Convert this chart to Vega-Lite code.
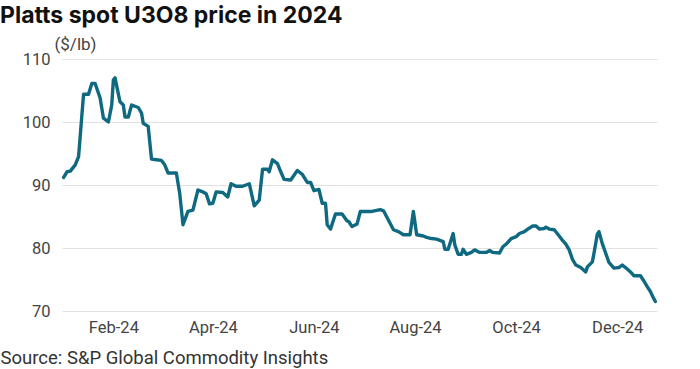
{
  "$schema": "https://vega.github.io/schema/vega-lite/v6.json",
  "autosize": "none",
  "width": 595,
  "height": 252,
  "padding": {"left": 62, "top": 59, "right": 43, "bottom": 58},
  "background": "white",
  "title": {
    "text": "Platts spot U3O8 price in 2024",
    "anchor": "start",
    "frame": "group",
    "dx": -62,
    "offset": 7,
    "font": "Inter",
    "fontSize": 23,
    "fontWeight": 700,
    "color": "#111111"
  },
  "config": {
    "view": {"stroke": null},
    "axis": {
      "labelFont": "Roboto",
      "labelFontSize": 16.5,
      "labelColor": "#444444",
      "titleFont": "Roboto",
      "titleFontWeight": "normal",
      "titleFontSize": 17,
      "titleColor": "#444444",
      "domain": false,
      "ticks": false
    }
  },
  "data": {
    "values": [
      {"date": "2024-01-02", "price": 91.2},
      {"date": "2024-01-04", "price": 92.1},
      {"date": "2024-01-06", "price": 92.2},
      {"date": "2024-01-09", "price": 93.2},
      {"date": "2024-01-11", "price": 94.5},
      {"date": "2024-01-14", "price": 104.4},
      {"date": "2024-01-17", "price": 104.4},
      {"date": "2024-01-19", "price": 106.1},
      {"date": "2024-01-21", "price": 106.1},
      {"date": "2024-01-24", "price": 103.8},
      {"date": "2024-01-26", "price": 100.6},
      {"date": "2024-01-29", "price": 100.0},
      {"date": "2024-01-31", "price": 102.7},
      {"date": "2024-02-01", "price": 106.7},
      {"date": "2024-02-02", "price": 107.0},
      {"date": "2024-02-05", "price": 103.2},
      {"date": "2024-02-07", "price": 102.7},
      {"date": "2024-02-08", "price": 100.8},
      {"date": "2024-02-10", "price": 100.8},
      {"date": "2024-02-12", "price": 102.7},
      {"date": "2024-02-16", "price": 102.3},
      {"date": "2024-02-18", "price": 101.4},
      {"date": "2024-02-19", "price": 99.8},
      {"date": "2024-02-22", "price": 99.3},
      {"date": "2024-02-24", "price": 94.1},
      {"date": "2024-02-27", "price": 94.0},
      {"date": "2024-03-01", "price": 93.9},
      {"date": "2024-03-03", "price": 93.2},
      {"date": "2024-03-05", "price": 91.9},
      {"date": "2024-03-10", "price": 91.9},
      {"date": "2024-03-12", "price": 88.7},
      {"date": "2024-03-14", "price": 83.7},
      {"date": "2024-03-17", "price": 85.8},
      {"date": "2024-03-20", "price": 86.0},
      {"date": "2024-03-23", "price": 89.2},
      {"date": "2024-03-26", "price": 88.9},
      {"date": "2024-03-28", "price": 88.6},
      {"date": "2024-03-30", "price": 87.0},
      {"date": "2024-04-01", "price": 87.1},
      {"date": "2024-04-03", "price": 88.9},
      {"date": "2024-04-07", "price": 88.8},
      {"date": "2024-04-10", "price": 88.1},
      {"date": "2024-04-12", "price": 90.2},
      {"date": "2024-04-15", "price": 89.8},
      {"date": "2024-04-19", "price": 89.8},
      {"date": "2024-04-23", "price": 90.2},
      {"date": "2024-04-26", "price": 86.7},
      {"date": "2024-04-29", "price": 87.6},
      {"date": "2024-05-01", "price": 92.5},
      {"date": "2024-05-04", "price": 92.5},
      {"date": "2024-05-05", "price": 92.1},
      {"date": "2024-05-07", "price": 94.0},
      {"date": "2024-05-10", "price": 93.4},
      {"date": "2024-05-12", "price": 92.1},
      {"date": "2024-05-14", "price": 90.9},
      {"date": "2024-05-18", "price": 90.8},
      {"date": "2024-05-22", "price": 92.3},
      {"date": "2024-05-25", "price": 91.7},
      {"date": "2024-05-28", "price": 90.4},
      {"date": "2024-05-30", "price": 90.4},
      {"date": "2024-06-01", "price": 89.1},
      {"date": "2024-06-04", "price": 89.3},
      {"date": "2024-06-06", "price": 87.1},
      {"date": "2024-06-08", "price": 87.1},
      {"date": "2024-06-09", "price": 83.7},
      {"date": "2024-06-11", "price": 83.0},
      {"date": "2024-06-14", "price": 85.4},
      {"date": "2024-06-18", "price": 85.4},
      {"date": "2024-06-21", "price": 84.3},
      {"date": "2024-06-22", "price": 84.2},
      {"date": "2024-06-24", "price": 83.4},
      {"date": "2024-06-27", "price": 83.8},
      {"date": "2024-06-29", "price": 85.8},
      {"date": "2024-07-06", "price": 85.8},
      {"date": "2024-07-11", "price": 86.1},
      {"date": "2024-07-13", "price": 85.9},
      {"date": "2024-07-16", "price": 84.4},
      {"date": "2024-07-19", "price": 82.9},
      {"date": "2024-07-22", "price": 82.6},
      {"date": "2024-07-25", "price": 82.1},
      {"date": "2024-07-29", "price": 82.1},
      {"date": "2024-07-31", "price": 85.8},
      {"date": "2024-08-02", "price": 82.1},
      {"date": "2024-08-06", "price": 81.9},
      {"date": "2024-08-08", "price": 81.7},
      {"date": "2024-08-11", "price": 81.5},
      {"date": "2024-08-14", "price": 81.4},
      {"date": "2024-08-18", "price": 81.0},
      {"date": "2024-08-19", "price": 79.8},
      {"date": "2024-08-21", "price": 79.8},
      {"date": "2024-08-24", "price": 82.3},
      {"date": "2024-08-25", "price": 80.5},
      {"date": "2024-08-27", "price": 79.0},
      {"date": "2024-08-29", "price": 79.0},
      {"date": "2024-08-30", "price": 79.8},
      {"date": "2024-09-01", "price": 79.0},
      {"date": "2024-09-04", "price": 79.3},
      {"date": "2024-09-06", "price": 79.7},
      {"date": "2024-09-09", "price": 79.3},
      {"date": "2024-09-13", "price": 79.3},
      {"date": "2024-09-15", "price": 79.6},
      {"date": "2024-09-17", "price": 79.3},
      {"date": "2024-09-21", "price": 79.2},
      {"date": "2024-09-23", "price": 80.2},
      {"date": "2024-09-25", "price": 80.6},
      {"date": "2024-09-28", "price": 81.5},
      {"date": "2024-10-01", "price": 81.8},
      {"date": "2024-10-03", "price": 82.3},
      {"date": "2024-10-06", "price": 82.6},
      {"date": "2024-10-08", "price": 83.0},
      {"date": "2024-10-11", "price": 83.5},
      {"date": "2024-10-13", "price": 83.5},
      {"date": "2024-10-15", "price": 83.0},
      {"date": "2024-10-18", "price": 83.1},
      {"date": "2024-10-19", "price": 83.3},
      {"date": "2024-10-21", "price": 83.0},
      {"date": "2024-10-24", "price": 82.9},
      {"date": "2024-10-27", "price": 81.9},
      {"date": "2024-10-29", "price": 81.2},
      {"date": "2024-10-31", "price": 80.6},
      {"date": "2024-11-02", "price": 79.7},
      {"date": "2024-11-04", "price": 78.2},
      {"date": "2024-11-06", "price": 77.3},
      {"date": "2024-11-09", "price": 76.9},
      {"date": "2024-11-12", "price": 76.2},
      {"date": "2024-11-13", "price": 77.0},
      {"date": "2024-11-16", "price": 77.8},
      {"date": "2024-11-17", "price": 79.2},
      {"date": "2024-11-19", "price": 82.2},
      {"date": "2024-11-20", "price": 82.6},
      {"date": "2024-11-22", "price": 80.7},
      {"date": "2024-11-24", "price": 79.2},
      {"date": "2024-11-26", "price": 77.7},
      {"date": "2024-11-29", "price": 76.8},
      {"date": "2024-12-02", "price": 76.9},
      {"date": "2024-12-04", "price": 77.3},
      {"date": "2024-12-06", "price": 76.9},
      {"date": "2024-12-09", "price": 76.2},
      {"date": "2024-12-11", "price": 75.6},
      {"date": "2024-12-15", "price": 75.6},
      {"date": "2024-12-17", "price": 74.8},
      {"date": "2024-12-19", "price": 73.9},
      {"date": "2024-12-21", "price": 73.1},
      {"date": "2024-12-23", "price": 72.0},
      {"date": "2024-12-24", "price": 71.5}
    ]
  },
  "mark": {"type": "line", "color": "#0f6a81", "strokeWidth": 3.4, "strokeJoin": "round", "strokeCap": "round"},
  "encoding": {
    "x": {
      "field": "date",
      "type": "temporal",
      "scale": {
        "type": "utc",
        "domain": [
          {"year": 2024, "month": 1, "date": 1, "utc": true},
          {"year": 2024, "month": 12, "date": 25, "utc": true}
        ]
      },
      "axis": {
        "values": [
          {"year": 2024, "month": 2, "date": 1, "utc": true},
          {"year": 2024, "month": 4, "date": 1, "utc": true},
          {"year": 2024, "month": 6, "date": 1, "utc": true},
          {"year": 2024, "month": 8, "date": 1, "utc": true},
          {"year": 2024, "month": 10, "date": 1, "utc": true},
          {"year": 2024, "month": 12, "date": 1, "utc": true}
        ],
        "labelExpr": "utcFormat(datum.value, '%b-%y')",
        "grid": false,
        "labelPadding": 8,
        "labelFlush": false,
        "title": "Source: S&P Global Commodity Insights",
        "titleX": -62,
        "titleY": 52,
        "titleAlign": "left",
        "titleAnchor": "start",
        "titleBaseline": "alphabetic",
        "titleFontSize": 18.5,
        "titleColor": "#333333"
      }
    },
    "y": {
      "field": "price",
      "type": "quantitative",
      "scale": {"domain": [70, 110], "zero": false, "nice": false},
      "axis": {
        "values": [70, 80, 90, 100, 110],
        "grid": true,
        "gridColor": "#e2e2e2",
        "gridWidth": 1,
        "labelPadding": 12,
        "title": "($/lb)",
        "titleAngle": 0,
        "titleX": -8,
        "titleY": -10,
        "titleAlign": "left",
        "titleBaseline": "alphabetic"
      }
    }
  }
}
